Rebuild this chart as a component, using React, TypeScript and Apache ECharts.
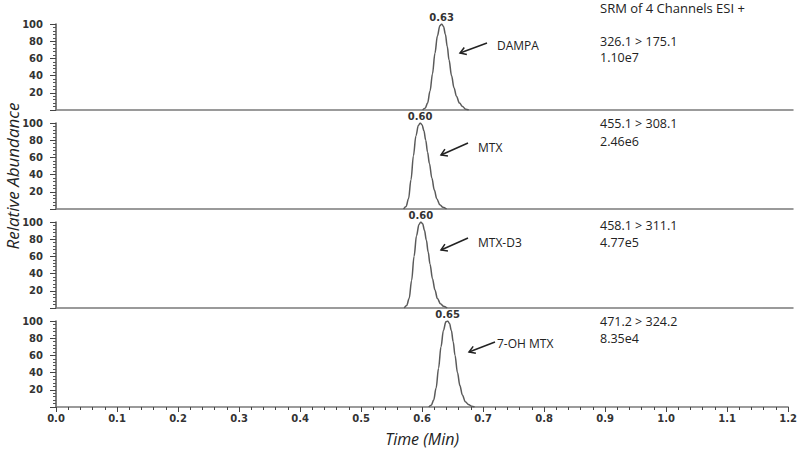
import React, { useEffect, useRef } from "react";
import * as echarts from "echarts";

const compounds = ["DAMPA", "MTX", "MTX-D3", "7-OH MTX"];
const transitions = ["326.1 > 175.1", "455.1 > 308.1", "458.1 > 311.1", "471.2 > 324.2"];
const intensities = ["1.10e7", "2.46e6", "4.77e5", "8.35e4"];
const peakLabels = ["0.63", "0.60", "0.60", "0.65"];
const headerText = "SRM of 4 Channels ESI +";

const dampaTime = [0.597, 0.601, 0.605, 0.609, 0.613, 0.617, 0.621, 0.625, 0.628, 0.631, 0.634, 0.637, 0.64, 0.644, 0.648, 0.652, 0.657, 0.662, 0.667, 0.672];
const dampaAbund = [0, 2, 8, 22, 42, 66, 86, 98, 100, 97, 88, 74, 58, 40, 26, 16, 8, 4, 1, 0];

const mtxTime = [0.566, 0.57, 0.574, 0.578, 0.582, 0.586, 0.59, 0.593, 0.596, 0.599, 0.602, 0.605, 0.608, 0.612, 0.616, 0.62, 0.625, 0.63, 0.636];
const mtxAbund = [0, 3, 12, 34, 62, 85, 97, 100, 98, 91, 80, 66, 53, 36, 22, 12, 5, 2, 0];

const mtxD3Time = [0.567, 0.571, 0.575, 0.579, 0.583, 0.587, 0.591, 0.594, 0.597, 0.6, 0.603, 0.606, 0.609, 0.613, 0.617, 0.621, 0.626, 0.631, 0.637];
const mtxD3Abund = [0, 3, 11, 32, 60, 84, 97, 100, 98, 90, 79, 65, 51, 34, 21, 11, 5, 2, 0];

const ohMtxTime = [0.611, 0.615, 0.619, 0.623, 0.627, 0.631, 0.635, 0.639, 0.642, 0.645, 0.648, 0.651, 0.654, 0.658, 0.662, 0.666, 0.671, 0.676, 0.681, 0.686];
const ohMtxAbund = [0, 2, 8, 22, 45, 70, 89, 99, 100, 97, 89, 76, 60, 40, 25, 14, 6, 3, 1, 0];

const times = [dampaTime, mtxTime, mtxD3Time, ohMtxTime];
const abunds = [dampaAbund, mtxAbund, mtxD3Abund, ohMtxAbund];

const X_MIN = 0;
const X_MAX = 1.2;
const X_INTERVAL = 0.1;
const Y_MIN = 0;
const Y_MAX = 100;
const Y_INTERVAL = 20;

// layout (pixels)
const gridTops = [24, 123, 222, 321];
const gridHeight = 86;
const gridLeft = 56;
const gridRight = 7;

// annotation layout (pixels)
const arrowTails = [[487, 43], [468, 143], [468, 238], [495, 342]];
const arrowHeads = [[460, 53], [441, 155], [441, 250], [469, 352]];
const nameX = [497, 478, 478, 497];
const nameY = [45, 147, 242, 343];
const transY = [41, 123, 225, 321];
const intenY = [57, 141, 242, 338];

const AXIS_FONT = "'DejaVu Sans', Verdana, sans-serif";
const TEXT_FONT = "'Open Sans', 'Noto Sans', sans-serif";

function arrow(tail: number[], head: number[]) {
  const dx = head[0] - tail[0];
  const dy = head[1] - tail[1];
  const len = Math.sqrt(dx * dx + dy * dy);
  const ux = dx / len;
  const uy = dy / len;
  const L = 7;
  const a = (32 * Math.PI) / 180;
  const wing = (s: number) => {
    const c = Math.cos(s * a);
    const sn = Math.sin(s * a);
    const rx = ux * c - uy * sn;
    const ry = ux * sn + uy * c;
    return [head[0] - L * rx, head[1] - L * ry];
  };
  const style = { stroke: "#222", lineWidth: 1.5, fill: "none" };
  return [
    { type: "line", shape: { x1: tail[0], y1: tail[1], x2: head[0], y2: head[1] }, style },
    { type: "polyline", shape: { points: [wing(1), head, wing(-1)] }, style },
  ];
}

export default function App() {
  const ref = useRef<HTMLDivElement>(null);
  useEffect(() => {
    if (!ref.current) return;
    const chart = echarts.init(ref.current, null, { renderer: "svg" });

    const grids = gridTops.map((t) => ({ left: gridLeft, right: gridRight, top: t, height: gridHeight }));
    const xAxes = gridTops.map((_, i) => {
      const last = i === gridTops.length - 1;
      return {
        type: "value",
        gridIndex: i,
        min: X_MIN,
        max: X_MAX,
        interval: X_INTERVAL,
        axisLine: { show: true, onZero: false, lineStyle: { color: "#7a7a7a", width: 1.5 } },
        axisTick: { show: last, length: 5, lineStyle: { color: "#444", width: 1 } },
        minorTick: { show: last, splitNumber: 5, length: 3, lineStyle: { color: "#444", width: 1 } },
        splitLine: { show: false },
        axisLabel: {
          show: last,
          margin: 6,
          color: "#333",
          fontFamily: AXIS_FONT,
          fontWeight: "bold",
          fontSize: 10,
          formatter: (v: number) => v.toFixed(1),
        },
        name: last ? "Time (Min)" : "",
        nameLocation: "middle",
        nameGap: 24,
        nameTextStyle: { fontFamily: TEXT_FONT, fontStyle: "italic", fontSize: 16, color: "#222" },
      };
    });
    const yAxes = gridTops.map((_, i) => ({
      type: "value",
      gridIndex: i,
      min: Y_MIN,
      max: Y_MAX,
      interval: Y_INTERVAL,
      axisLine: { show: true, lineStyle: { color: "#555", width: 1.5 } },
      axisTick: { show: true, length: 6, lineStyle: { color: "#444", width: 1 } },
      minorTick: { show: true, splitNumber: 5, length: 3, lineStyle: { color: "#555", width: 1 } },
      splitLine: { show: false },
      axisLabel: {
        show: true,
        showMinLabel: false,
        margin: 13,
        color: "#333",
        fontFamily: AXIS_FONT,
        fontWeight: "bold",
        fontSize: 10,
      },
    }));

    const series = abunds.map((ab, i) => ({
      type: "line",
      xAxisIndex: i,
      yAxisIndex: i,
      data: ab.map((v, j) => [times[i][j], v]),
      showSymbol: false,
      smooth: 0.35,
      smoothMonotone: "x",
      lineStyle: { color: "#5a5a5a", width: 1.5 },
      markPoint: {
        symbol: "circle",
        symbolSize: 0,
        data: [{ type: "max" }],
        label: {
          show: true,
          position: "top",
          distance: 2,
          formatter: peakLabels[i],
          color: "#333",
          fontFamily: AXIS_FONT,
          fontWeight: "bold",
          fontSize: 10,
        },
      },
    }));

    const graphic: any[] = [];
    graphic.push({
      type: "text",
      x: 600,
      y: 8,
      style: { text: headerText, font: `13px ${TEXT_FONT}`, fill: "#222", textVerticalAlign: "middle" },
    });
    for (let i = 0; i < compounds.length; i++) {
      graphic.push({
        type: "text",
        x: 600,
        y: transY[i],
        style: { text: transitions[i], font: `12.5px ${TEXT_FONT}`, fill: "#222", textVerticalAlign: "middle" },
      });
      graphic.push({
        type: "text",
        x: 600,
        y: intenY[i],
        style: { text: intensities[i], font: `12.5px ${TEXT_FONT}`, fill: "#222", textVerticalAlign: "middle" },
      });
      graphic.push({
        type: "text",
        x: nameX[i],
        y: nameY[i],
        style: { text: compounds[i], font: `12px ${TEXT_FONT}`, fill: "#222", textVerticalAlign: "middle" },
      });
      graphic.push(...arrow(arrowTails[i], arrowHeads[i]));
    }
    graphic.push({
      type: "text",
      x: 12,
      y: 176,
      rotation: Math.PI / 2,
      style: {
        text: "Relative Abundance",
        font: `italic 17px ${TEXT_FONT}`,
        fill: "#222",
        textAlign: "center",
        textVerticalAlign: "middle",
      },
    });

    chart.setOption({
      animation: false,
      backgroundColor: "#ffffff",
      grid: grids,
      xAxis: xAxes,
      yAxis: yAxes,
      series,
      graphic,
    });
    return () => chart.dispose();
  }, []);
  return (
    <div
      ref={ref}
      style={{ position: "fixed", left: 0, top: 0, width: 800, height: 450, background: "#fff" }}
    />
  );
}
